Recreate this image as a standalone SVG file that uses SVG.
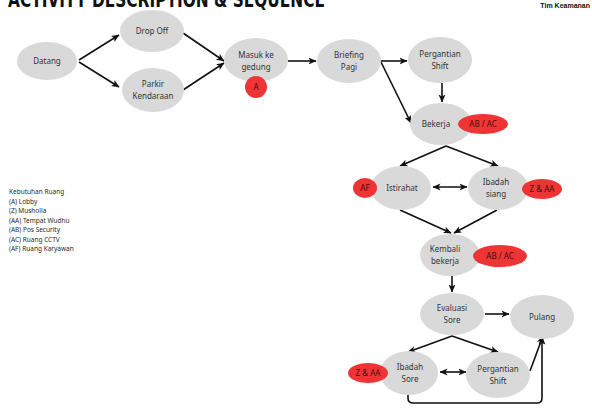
<svg xmlns="http://www.w3.org/2000/svg" width="592" height="408" viewBox="0 0 592 408">
<style>
.n{fill:#d9d9d9}
.b{fill:#ee3434}
.t{font-family:"Noto Sans","Liberation Sans",sans-serif;font-size:8px;fill:#333;text-anchor:middle}
.bt{font-family:"Noto Sans","Liberation Sans",sans-serif;font-size:8px;fill:#4a0c0c;text-anchor:middle}
.lg{font-family:"Noto Sans","Liberation Sans",sans-serif;font-size:6.5px;fill:#2a2a2a}
.c{fill:none;stroke:#111;stroke-width:1.6;marker-end:url(#ah)}
.d{marker-start:url(#ah)}
</style>
<defs>
<marker id="ah" viewBox="0 0 8 8" refX="7.5" refY="4" markerWidth="8" markerHeight="8" markerUnits="userSpaceOnUse" orient="auto-start-reverse">
<path d="M0,0.5 L8,4 L0,7.5 L2,4 z" fill="#111"/>
</marker>
</defs>
<rect width="592" height="408" fill="#fff"/>
<text x="8" y="7" font-family="DejaVu Sans Condensed,DejaVu Sans,sans-serif" font-weight="bold" font-stretch="condensed" font-size="21" textLength="317" lengthAdjust="spacingAndGlyphs" fill="#111">ACTIVITY DESCRIPTION &amp; SEQUENCE</text>
<text x="590" y="8" font-family="Liberation Sans,Arial,sans-serif" font-weight="bold" font-size="7" text-anchor="end" fill="#111">Tim Keamanan</text>
<g id="legend" class="lg">
<text x="9" y="194">Kebutuhan Ruang</text>
<text x="9" y="203.5">(A) Lobby</text>
<text x="9" y="213">(Z) Musholla</text>
<text x="9" y="222.5">(AA) Tempat Wudhu</text>
<text x="9" y="232">(AB) Pos Security</text>
<text x="9" y="241.5">(AC) Ruang CCTV</text>
<text x="9" y="251">(AF) Ruang Karyawan</text>
</g>
<g id="connectors">
<path class="c" d="M79,60 L119,35"/>
<path class="c" d="M79,62 L119,87"/>
<path class="c" d="M183,33 L224,61"/>
<path class="c" d="M183,90 L224,63"/>
<path class="c" d="M288,61 L316,61"/>
<path class="c" d="M380,61 L407,61"/>
<path class="c" d="M381,62 L411,123"/>
<path class="c" d="M442,83 L442,102"/>
<path class="c" d="M446,146 L400,166"/>
<path class="c" d="M446,146 L498,166"/>
<path class="c d" d="M433,187 L467,187"/>
<path class="c" d="M400,210 L451,233"/>
<path class="c" d="M497,210 L454,233"/>
<path class="c" d="M452,276 L452,292"/>
<path class="c" d="M485,314 L509,314"/>
<path class="c" d="M452,336 L408,352"/>
<path class="c" d="M452,336 L498,352"/>
<path class="c d" d="M440,372 L466,372"/>
<path class="c" d="M530,371 L543,336"/>
<path class="c" d="M408,395 L408,398 Q408,403 413,403 L537,403 Q542,403 542,398 L542,337"/>
</g>
<g id="datang"><ellipse class="n" cx="47" cy="61" rx="30" ry="19"/><text class="t" x="47" y="64">Datang</text></g>
<g id="dropoff"><ellipse class="n" cx="152" cy="31" rx="32" ry="21"/><text class="t" x="152" y="34">Drop Off</text></g>
<g id="parkir"><ellipse class="n" cx="153" cy="90" rx="31" ry="22"/><text class="t" x="153" y="87">Parkir</text><text class="t" x="153" y="99">Kendaraan</text></g>
<g id="masuk"><ellipse class="n" cx="256" cy="60" rx="32" ry="22"/><text class="t" x="256" y="58">Masuk ke</text><text class="t" x="256" y="70">gedung</text>
<circle class="b" cx="256" cy="87" r="11"/><text class="bt" x="256" y="90">A</text></g>
<g id="briefing"><ellipse class="n" cx="349" cy="61" rx="32" ry="22"/><text class="t" x="349" y="58">Briefing</text><text class="t" x="349" y="70">Pagi</text></g>
<g id="pergantian1"><ellipse class="n" cx="440" cy="60" rx="32" ry="23"/><text class="t" x="440" y="57">Pergantian</text><text class="t" x="440" y="69">Shift</text></g>
<g id="bekerja"><ellipse class="n" cx="441" cy="124" rx="31" ry="21"/><text class="t" x="436" y="127">Bekerja</text>
<ellipse class="b" cx="483" cy="124" rx="25" ry="10"/><text class="bt" x="483" y="127">AB / AC</text></g>
<g id="istirahat"><ellipse class="n" cx="401" cy="188" rx="30" ry="22"/><text class="t" x="402" y="191">Istirahat</text>
<ellipse class="b" cx="365" cy="188" rx="12" ry="10"/><text class="bt" x="365" y="191">AF</text></g>
<g id="ibadahsiang"><ellipse class="n" cx="498" cy="188" rx="30" ry="22"/><text class="t" x="496" y="185">Ibadah</text><text class="t" x="496" y="197">siang</text>
<ellipse class="b" cx="542" cy="189" rx="20" ry="10"/><text class="bt" x="542" y="192">Z &amp; AA</text></g>
<g id="kembali"><ellipse class="n" cx="450" cy="255" rx="30" ry="21"/><text class="t" x="445" y="252">Kembali</text><text class="t" x="445" y="264">bekerja</text>
<ellipse class="b" cx="500" cy="256" rx="27" ry="11"/><text class="bt" x="500" y="259">AB / AC</text></g>
<g id="evaluasi"><ellipse class="n" cx="452" cy="314" rx="32" ry="21"/><text class="t" x="452" y="311">Evaluasi</text><text class="t" x="452" y="323">Sore</text></g>
<g id="pulang"><ellipse class="n" cx="542" cy="317" rx="32" ry="22"/><text class="t" x="542" y="320">Pulang</text></g>
<g id="ibadahsore"><ellipse class="n" cx="409" cy="373" rx="29" ry="22"/><text class="t" x="410" y="370">Ibadah</text><text class="t" x="410" y="382">Sore</text>
<ellipse class="b" cx="368" cy="373" rx="20" ry="10"/><text class="bt" x="368" y="376">Z &amp; AA</text></g>
<g id="pergantian2"><ellipse class="n" cx="498" cy="375" rx="32" ry="23"/><text class="t" x="498" y="372">Pergantian</text><text class="t" x="498" y="384">Shift</text></g>
</svg>
